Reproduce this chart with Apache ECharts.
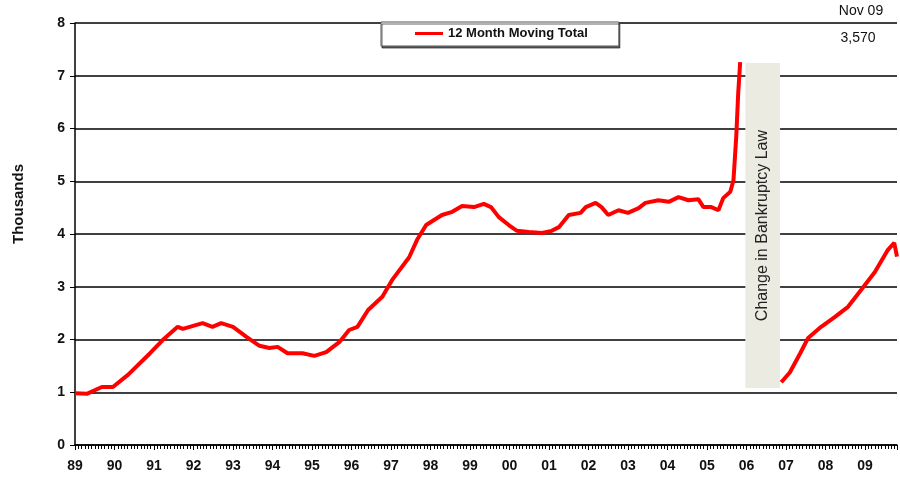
<!DOCTYPE html>
<html>
<head>
<meta charset="utf-8">
<script src="https://cdn.jsdelivr.net/npm/echarts@6/dist/echarts.min.js"></script>
<style>
  html, body { margin: 0; padding: 0; background: #fff; }
  #chart { width: 900px; height: 480px; }
</style>
</head>
<body>
<div id="chart"></div>
<script>
// 12 month moving total (thousands)
var preYears = [1989.00, 1989.30, 1989.68, 1989.96, 1990.34, 1990.90, 1991.22, 1991.60, 1991.73,
  1992.23, 1992.48, 1992.70, 1993.00, 1993.34, 1993.67, 1993.92, 1994.13, 1994.38, 1994.76,
  1995.06, 1995.36, 1995.69, 1995.94, 1996.15, 1996.42, 1996.78, 1997.03, 1997.46, 1997.66,
  1997.89, 1998.29, 1998.55, 1998.80, 1999.10, 1999.35, 1999.53, 1999.73, 1999.98, 2000.19,
  2000.49, 2000.82, 2001.07, 2001.25, 2001.50, 2001.80, 2001.93, 2002.18, 2002.33, 2002.50,
  2002.76, 2003.00, 2003.27, 2003.44, 2003.77, 2004.03, 2004.28, 2004.53, 2004.78, 2004.91,
  2005.11, 2005.29, 2005.41, 2005.59, 2005.67, 2005.74, 2005.79, 2005.84];
var preTotals = [0.98, 0.97, 1.10, 1.10, 1.33, 1.74, 1.99, 2.24, 2.20,
  2.31, 2.24, 2.31, 2.24, 2.05, 1.88, 1.84, 1.86, 1.74, 1.74,
  1.69, 1.76, 1.95, 2.18, 2.24, 2.56, 2.81, 3.13, 3.56, 3.89,
  4.17, 4.36, 4.42, 4.53, 4.51, 4.57, 4.51, 4.32, 4.17, 4.06,
  4.04, 4.02, 4.06, 4.13, 4.36, 4.40, 4.51, 4.59, 4.51, 4.36,
  4.45, 4.40, 4.49, 4.59, 4.64, 4.61, 4.70, 4.64, 4.66, 4.51,
  4.51, 4.45, 4.68, 4.80, 5.02, 5.84, 6.67, 7.26];
var postYears = [2006.88, 2007.10, 2007.36, 2007.56, 2007.89, 2008.24, 2008.57, 2008.90,
  2009.25, 2009.58, 2009.74, 2009.81];
var postTotals = [1.19, 1.38, 1.74, 2.03, 2.24, 2.43, 2.62, 2.94, 3.28, 3.70, 3.83, 3.57];

var yTicks = [0, 1, 2, 3, 4, 5, 6, 7, 8];
var lawChangeX = [2005.97, 2006.85];
var lawChangeY = [1.08, 7.24];

var font = '"Liberation Sans", Arial, sans-serif';

var lineData = preYears.map(function (x, i) { return [x, preTotals[i]]; });
lineData.push([2006.3, null]); // break for the law change
postYears.forEach(function (x, i) { lineData.push([x, postTotals[i]]); });

var myChart = echarts.init(document.getElementById('chart'));
myChart.setOption({
  animation: false,
  grid: { left: 75, right: 1, top: 23, bottom: 35 },
  legend: {
    data: [{ name: '12 Month Moving Total', icon: 'rect' }],
    left: 381,
    top: 22,
    padding: [5, 31, 6, 34],
    itemWidth: 28,
    itemHeight: 3,
    backgroundColor: '#fff',
    borderColor: '#555',
    borderWidth: 1,
    shadowColor: 'rgba(0,0,0,0.6)',
    shadowOffsetX: 1,
    shadowOffsetY: 2,
    textStyle: { fontFamily: font, fontWeight: 'bold', fontSize: 13, color: '#111' }
  },
  xAxis: {
    type: 'value',
    min: 1989,
    max: 2009.81,
    interval: 1,
    axisLine: { show: true, lineStyle: { color: '#000', width: 1.5 } },
    axisTick: { show: true, length: 5, lineStyle: { color: '#000' } },
    minorTick: { show: true, splitNumber: 12, length: 4, lineStyle: { color: '#000' } },
    splitLine: { show: false },
    axisLabel: {
      margin: 14,
      fontFamily: font, fontWeight: 'bold', fontSize: 14, color: '#111',
      formatter: function (v) {
        if (Math.abs(v - Math.round(v)) > 0.001) return '';
        var s = String(Math.round(v) % 100);
        return s.length < 2 ? '0' + s : s;
      }
    }
  },
  yAxis: {
    type: 'value',
    min: yTicks[0],
    max: yTicks[yTicks.length - 1],
    interval: 1,
    axisLine: { show: true, lineStyle: { color: '#000', width: 1.5 } },
    axisTick: { show: true, length: 5, lineStyle: { color: '#000' } },
    splitLine: { show: true, lineStyle: { color: '#000', width: 1.5 } },
    axisLabel: { margin: 10, fontFamily: font, fontWeight: 'bold', fontSize: 14, color: '#111' }
  },
  graphic: [
    {
      type: 'text', x: 19, y: 204, rotation: Math.PI / 2,
      style: { text: 'Thousands', font: 'bold 15px ' + font, fill: '#111', textAlign: 'center', textVerticalAlign: 'middle' }
    },
    {
      type: 'text', x: 861, y: 11,
      style: { text: 'Nov 09', font: '14px ' + font, fill: '#111', textAlign: 'center', textVerticalAlign: 'middle' }
    },
    {
      type: 'text', x: 858, y: 38,
      style: { text: '3,570', font: '14px ' + font, fill: '#111', textAlign: 'center', textVerticalAlign: 'middle' }
    }
  ],
  series: [{
    name: '12 Month Moving Total',
    type: 'line',
    data: lineData,
    showSymbol: false,
    symbol: 'none',
    connectNulls: false,
    lineStyle: { color: '#ff0000', width: 4 },
    itemStyle: { color: '#ff0000' },
    z: 3,
    markArea: {
      silent: true,
      itemStyle: { color: '#ecebe1' },
      label: {
        show: true,
        position: 'inside',
        rotate: 90,
        formatter: 'Change in Bankruptcy Law',
        fontFamily: font, fontSize: 16, color: '#222'
      },
      data: [[
        { xAxis: lawChangeX[0], yAxis: lawChangeY[0] },
        { xAxis: lawChangeX[1], yAxis: lawChangeY[1] }
      ]]
    }
  }]
});
</script>
</body>
</html>
